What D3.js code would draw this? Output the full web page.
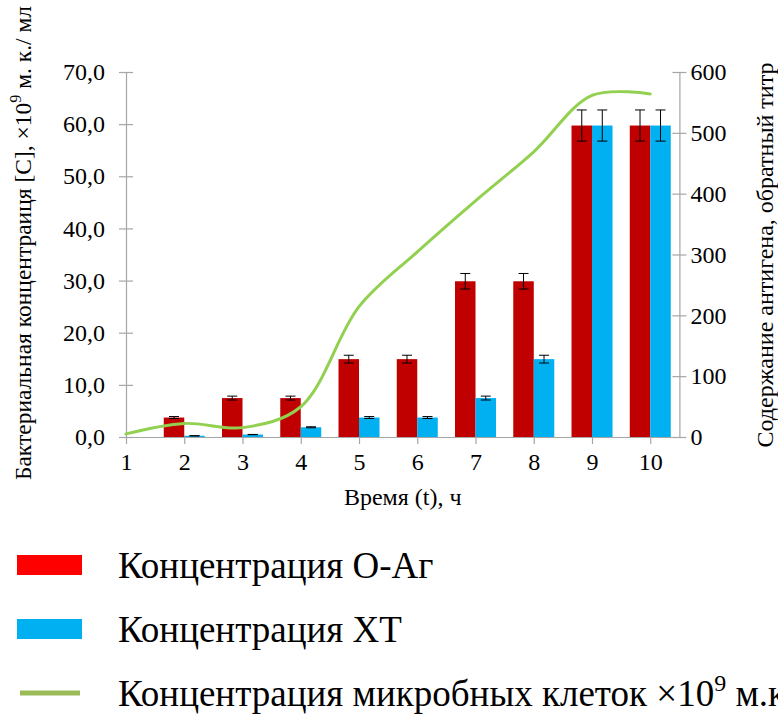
<!DOCTYPE html>
<html>
<head>
<meta charset="utf-8">
<script src="https://cdn.jsdelivr.net/npm/d3@7"></script>
<style>
  body { margin: 0; background: #fff; }
  svg { display: block; }
  text { font-family: 'Liberation Serif', 'Times New Roman', 'DejaVu Serif', serif; }
</style>
</head>
<body>
<svg id="chart" width="778" height="715"></svg>
<script>
// data
var hours = [1, 2, 3, 4, 5, 6, 7, 8, 9, 10];
var oAg = [0, 32, 64, 64, 128, 128, 256, 256, 512, 512];
var oAgErr = [0, 1.6, 3.2, 3.2, 6.4, 6.4, 12.8, 12.8, 25.6, 25.6];
var xt = [0, 2, 4, 16, 32, 32, 64, 128, 512, 512];
var xtErr = [0, 0.1, 0.2, 0.8, 1.6, 1.6, 3.2, 6.4, 25.6, 25.6];
var cells = [0.6, 2.6, 1.8, 5.8, 25.0, 35.5, 45.3, 54.7, 65.5, 65.8];
var leftTicks = [0, 10, 20, 30, 40, 50, 60, 70];
var rightTicks = [0, 100, 200, 300, 400, 500, 600];
var legendLabels = ['Концентрация О-Аг', 'Концентрация ХТ', 'Концентрация микробных клеток ×10'];

var FONT = "'Liberation Serif', 'Times New Roman', 'DejaVu Serif', serif";
var AXIS = '#a6a6a6';
var BAR_W = 20.5;

var svg = d3.select('#chart');

var x = d3.scaleLinear().domain([1, 10.5]).range([126, 679.4]);
var yL = d3.scaleLinear().domain([0, 70]).range([437, 72]);
var yR = d3.scaleLinear().domain([0, 600]).range([437, 72]);

function styleAxis(g) {
  g.attr('font-family', FONT);
  g.selectAll('path').attr('stroke', AXIS).attr('stroke-width', 1.2);
  g.selectAll('line').attr('stroke', AXIS).attr('stroke-width', 1.2);
  g.selectAll('text').attr('font-size', 24).attr('fill', '#000');
}

// left axis, ticks cross the line
var gL = svg.append('g')
  .attr('transform', 'translate(126,0)')
  .call(d3.axisLeft(yL).tickValues(leftTicks).tickSize(7).tickPadding(14).tickSizeOuter(0)
    .tickFormat(function (d) { return d.toFixed(1).replace('.', ','); }));
gL.selectAll('.tick line').attr('x2', -7).attr('x1', 7);
styleAxis(gL);

// right axis
var gR = svg.append('g')
  .attr('transform', 'translate(679.4,0)')
  .call(d3.axisRight(yR).tickValues(rightTicks).tickSize(7).tickPadding(4).tickSizeOuter(0));
gR.selectAll('.tick line').attr('x1', -7).attr('x2', 7);
styleAxis(gR);

// bottom axis
var gX = svg.append('g')
  .attr('transform', 'translate(0,437)')
  .call(d3.axisBottom(x).tickValues(hours).tickSize(7).tickPadding(9).tickSizeOuter(0)
    .tickFormat(d3.format('d')));
styleAxis(gX);

// bars
svg.append('g').selectAll('rect.oag')
  .data(hours)
  .enter().append('rect')
  .attr('class', 'oag')
  .attr('x', function (d) { return x(d) - BAR_W; })
  .attr('y', function (d, i) { return yR(oAg[i]); })
  .attr('width', BAR_W)
  .attr('height', function (d, i) { return yR(0) - yR(oAg[i]); })
  .attr('fill', '#c00000');

svg.append('g').selectAll('rect.xt')
  .data(hours)
  .enter().append('rect')
  .attr('class', 'xt')
  .attr('x', function (d) { return x(d); })
  .attr('y', function (d, i) { return yR(xt[i]); })
  .attr('width', BAR_W)
  .attr('height', function (d, i) { return yR(0) - yR(xt[i]); })
  .attr('fill', '#00b0f0');

// error bars
function errorBars(vals, errs, offset) {
  var g = svg.append('g').attr('stroke', '#000').attr('stroke-width', 1);
  hours.forEach(function (h, i) {
    if (!vals[i]) return;
    var cx = x(h) + offset;
    var top = yR(vals[i] + errs[i]);
    var bot = yR(vals[i] - errs[i]);
    g.append('line').attr('x1', cx).attr('x2', cx).attr('y1', top).attr('y2', bot);
    g.append('line').attr('x1', cx - 5).attr('x2', cx + 5).attr('y1', top).attr('y2', top);
    g.append('line').attr('x1', cx - 5).attr('x2', cx + 5).attr('y1', bot).attr('y2', bot);
  });
}
errorBars(oAg, oAgErr, -BAR_W / 2);
errorBars(xt, xtErr, BAR_W / 2);

// smoothed cell concentration line
var line = d3.line()
  .x(function (d) { return x(d); })
  .y(function (d, i) { return yL(cells[i]); })
  .curve(d3.curveCatmullRom.alpha(0.5));

svg.append('path')
  .datum(hours)
  .attr('d', line)
  .attr('fill', 'none')
  .attr('stroke', '#92d050')
  .attr('stroke-width', 3)
  .attr('stroke-linecap', 'round');

// axis titles
svg.append('text')
  .attr('x', 402.7)
  .attr('y', 505)
  .attr('text-anchor', 'middle')
  .attr('font-size', 24)
  .text('Время (t), ч');

var tL = svg.append('text')
  .attr('transform', 'translate(31,243) rotate(-90)')
  .attr('text-anchor', 'middle')
  .attr('font-size', 23.5);
tL.append('tspan').text('Бактериальная концентраиця [C], ×10');
tL.append('tspan').attr('dy', -10).attr('font-size', 16).text('9');
tL.append('tspan').attr('dy', 10).text(' м. к./ мл');

svg.append('text')
  .attr('transform', 'translate(773,255) rotate(-90)')
  .attr('text-anchor', 'middle')
  .attr('font-size', 24)
  .text('Содержание антигена, обратный титр');

// legend
var lg = svg.append('g');
lg.append('rect').attr('x', 17).attr('y', 555).attr('width', 65).attr('height', 20).attr('fill', '#ff0000');
lg.append('rect').attr('x', 17).attr('y', 619).attr('width', 65).attr('height', 20).attr('fill', '#00b0f0');
lg.append('line').attr('x1', 20).attr('x2', 80).attr('y1', 693).attr('y2', 693)
  .attr('stroke', '#9bbb59').attr('stroke-width', 5);

legendLabels.forEach(function (label, i) {
  var t = lg.append('text')
    .attr('x', 118)
    .attr('y', 578 + i * 64)
    .attr('font-size', 37)
    .text(label);
  if (i === 2) {
    t.append('tspan').attr('dy', -15).attr('font-size', 24).text('9');
    t.append('tspan').attr('dy', 15).text(' м.к./мл');
  }
});
</script>
</body>
</html>
